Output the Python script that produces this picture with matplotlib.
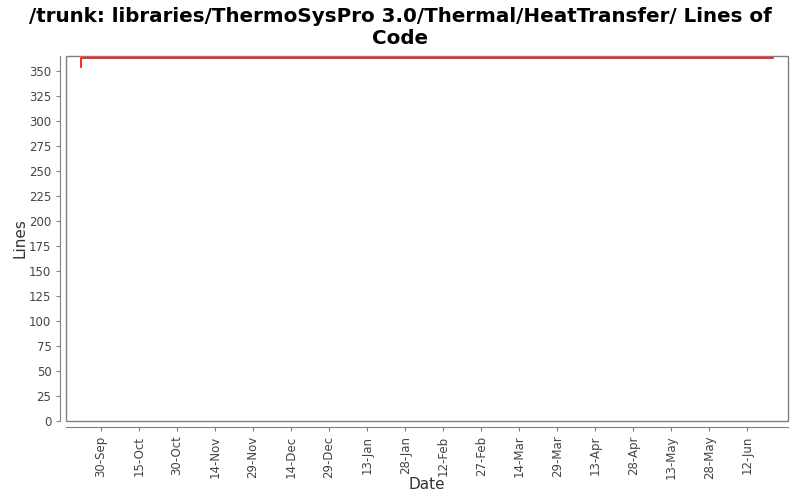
import matplotlib
matplotlib.use("Agg")
import matplotlib.pyplot as plt
import matplotlib.dates as mdates
from matplotlib.patches import Rectangle
from datetime import datetime, timedelta

# data: lines of code over time
dates = [datetime(2010, 9, 22), datetime(2010, 9, 22, 6), datetime(2011, 6, 22)]
lines = [354, 363, 363]

tickStart = datetime(2010, 9, 30)
tickDates = [tickStart + timedelta(days=15 * i) for i in range(18)]

fig = plt.figure(figsize=(8, 5), dpi=100)
ax = fig.add_axes([0.0825, 0.158, 0.9025, 0.73])

ax.plot(dates, lines, "-", c="red", lw=1.2, drawstyle="steps-post")

ax.set_xlim(datetime(2010, 9, 16, 6), datetime(2011, 6, 28))
ax.set_ylim(0, 365)
ax.set_yticks(range(0, 351, 25))
ax.set_xticks(tickDates)
ax.xaxis.set_major_formatter(mdates.DateFormatter("%-d-%b"))
ax.tick_params(axis="x", labelrotation=90)

for side in ["top", "right"]:
    ax.spines[side].set_visible(False)
for side in ["left", "bottom"]:
    ax.spines[side].set_position(("outward", 4))
    ax.spines[side].set_color("gray")
ax.add_patch(Rectangle((0, 0), 1, 1, transform=ax.transAxes, fill=False,
                       edgecolor="gray", lw=1, clip_on=False))

ax.tick_params(colors="gray", labelcolor="#444444", labelsize=8.5, length=3)
ax.set_xlabel("Date", fontsize=11, color="#333333", va="center")
ax.set_ylabel("Lines", fontsize=11, color="#333333", va="center")
ax.xaxis.set_label_coords(0.5, -0.175)
ax.yaxis.set_label_coords(-0.064, 0.5)
fig.text(0.5, 0.985, "/trunk: libraries/ThermoSysPro 3.0/Thermal/HeatTransfer/ Lines of\nCode",
         ha="center", va="top", fontsize=14.3, fontweight="bold", linespacing=1.15)

plt.savefig("out.png")
